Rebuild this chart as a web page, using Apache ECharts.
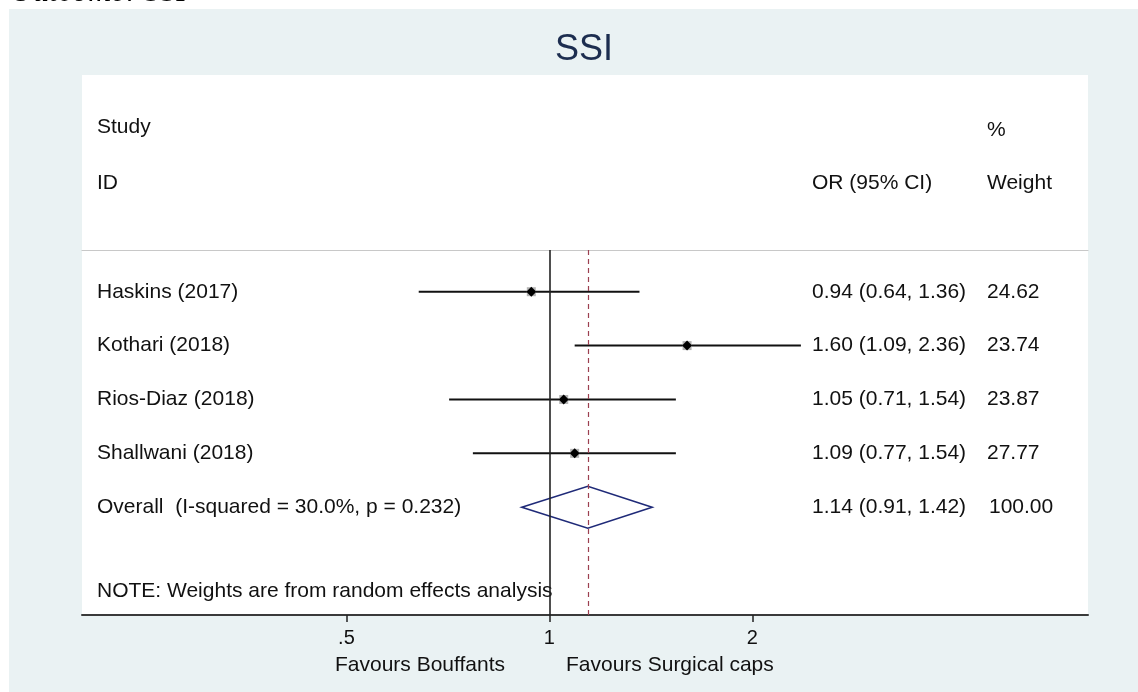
<!DOCTYPE html>
<html>
<head>
<meta charset="utf-8">
<script src="https://cdn.jsdelivr.net/npm/echarts@6/dist/echarts.min.js"></script>
<style>
  html, body { margin: 0; padding: 0; background: #fff; }
</style>
</head>
<body>
<div id="main" style="width: 1138px;height:692px;"></div>
<script type="text/javascript">
    // forest plot data (odds ratios, 95% CI, weights)
    var studies = ['Haskins (2017)', 'Kothari (2018)', 'Rios-Diaz (2018)', 'Shallwani (2018)'];
    var orValues = [0.94, 1.60, 1.05, 1.09];
    var ciLower = [0.64, 1.09, 0.71, 0.77];
    var ciUpper = [1.36, 2.36, 1.54, 1.54];
    var weights = ['24.62', '23.74', '23.87', '27.77'];

    var overallLabel = 'Overall  (I-squared = 30.0%, p = 0.232)';
    var overallEstimate = [1.14, 0.91, 1.42];   // OR, lower, upper
    var overallWeight = '100.00';

    var xTicks = [0.5, 1, 2];
    var noteText = 'NOTE: Weights are from random effects analysis';

    var FONT = "'Liberation Sans', Arial, sans-serif";
    var txt = { fontFamily: FONT, fontSize: 21, fill: '#111', verticalAlign: 'middle' };

    function fmt(v) { return v.toFixed(2); }
    function ciText(o, l, h) { return fmt(o) + ' (' + fmt(l) + ', ' + fmt(h) + ')'; }

    var myChart = echarts.init(document.getElementById('main'));

    function renderStudy(params, api) {
        var i = params.dataIndex;
        var row = api.value(1);
        var pt = api.coord([api.value(0), row]);
        var lo = api.coord([api.value(2), row]);
        var hi = api.coord([api.value(3), row]);
        var left = params.coordSys.x;
        return {
            type: 'group',
            children: [
                { type: 'line', shape: { x1: lo[0], y1: lo[1], x2: hi[0], y2: hi[1] }, style: { stroke: '#111', lineWidth: 2 } },
                { type: 'rect', shape: { x: pt[0] - 4.5, y: pt[1] - 4.5, width: 9, height: 9 }, style: { fill: '#b4b4b4' } },
                { type: 'polygon', shape: { points: [[pt[0] - 5, pt[1]], [pt[0], pt[1] - 5], [pt[0] + 5, pt[1]], [pt[0], pt[1] + 5]] }, style: { fill: '#000' } },
                { type: 'text', x: left + 15, y: pt[1], style: Object.assign({ text: studies[i] }, txt) },
                { type: 'text', x: left + 730, y: pt[1], style: Object.assign({ text: ciText(orValues[i], ciLower[i], ciUpper[i]) }, txt) },
                { type: 'text', x: left + 905, y: pt[1], style: Object.assign({ text: weights[i] }, txt) }
            ]
        };
    }

    function renderOverall(params, api) {
        var row = api.value(1);
        var c = api.coord([api.value(0), row]);
        var lo = api.coord([api.value(2), row]);
        var hi = api.coord([api.value(3), row]);
        var left = params.coordSys.x;
        return {
            type: 'group',
            children: [
                { type: 'polygon', shape: { points: [[lo[0], lo[1]], [c[0], c[1] - 21], [hi[0], hi[1]], [c[0], c[1] + 21]] },
                  style: { fill: 'none', stroke: '#1f2a78', lineWidth: 1.6 } },
                { type: 'text', x: left + 15, y: c[1], style: Object.assign({ text: overallLabel }, txt) },
                { type: 'text', x: left + 730, y: c[1], style: Object.assign({ text: ciText(overallEstimate[0], overallEstimate[1], overallEstimate[2]) }, txt) },
                { type: 'text', x: left + 907, y: c[1], style: Object.assign({ text: overallWeight }, txt) }
            ]
        };
    }

    function renderNote(params, api) {
        var p = api.coord([api.value(0), api.value(1)]);
        return { type: 'text', x: params.coordSys.x + 15, y: p[1], style: Object.assign({ text: noteText }, txt) };
    }

    var studyData = studies.map(function (s, i) { return [orValues[i], i, ciLower[i], ciUpper[i]]; });

    var option = {
        animation: false,
        backgroundColor: '#ffffff',
        graphic: [
            { type: 'text', x: 10, y: -7, z: -12, style: { text: 'Outcome: SSI', fontFamily: "'Liberation Serif', serif", fontStyle: 'italic', fontSize: 32, fill: '#000', verticalAlign: 'middle' } },
            { type: 'rect', z: -11, shape: { x: 9, y: 9, width: 1129, height: 683 }, style: { fill: '#eaf2f3' } },
            { type: 'rect', z: -10, shape: { x: 82, y: 75, width: 1006, height: 540 }, style: { fill: '#ffffff' } },
            { type: 'text', x: 584, y: 50, style: { text: 'SSI', fontFamily: FONT, fontSize: 36, fill: '#1c2d4f', align: 'center', verticalAlign: 'middle' } },
            { type: 'text', x: 97, y: 127, style: Object.assign({ text: 'Study' }, txt) },
            { type: 'text', x: 97, y: 183, style: Object.assign({ text: 'ID' }, txt) },
            { type: 'text', x: 812, y: 183, style: Object.assign({ text: 'OR (95% CI)' }, txt) },
            { type: 'text', x: 987, y: 130, style: Object.assign({ text: '%' }, txt) },
            { type: 'text', x: 987, y: 183, style: Object.assign({ text: 'Weight' }, txt) },
            { type: 'text', x: 505, y: 665, style: Object.assign({ text: 'Favours Bouffants', align: 'right' }, txt) },
            { type: 'text', x: 566, y: 665, style: Object.assign({ text: 'Favours Surgical caps' }, txt) }
        ],
        grid: { left: 82, right: 50, top: 250, bottom: 77 },
        xAxis: [{
            type: 'log',
            logBase: 2,
            min: 0.2027,
            max: 6.29,
            position: 'bottom',
            splitLine: { show: false },
            axisLine: { onZero: false, lineStyle: { color: '#3a3a3a', width: 2 } },
            axisTick: { customValues: xTicks, length: 7, lineStyle: { color: '#222', width: 1.5 } },
            axisLabel: {
                customValues: xTicks,
                margin: 13,
                fontFamily: FONT,
                fontSize: 20,
                color: '#111',
                formatter: function (v) {
                    var n = Math.round(v * 1000) / 1000;
                    return n < 1 ? String(n).replace(/^0/, '') : String(n);
                }
            }
        }, {
            type: 'log',
            logBase: 2,
            min: 0.2027,
            max: 6.29,
            position: 'top',
            splitLine: { show: false },
            axisLine: { onZero: false, lineStyle: { color: '#c8c8c8', width: 1.2 } },
            axisTick: { show: false },
            axisLabel: { show: false }
        }],
        yAxis: {
            type: 'value',
            inverse: true,
            min: -0.774,
            max: 6.0,
            show: false
        },
        series: [{
            type: 'custom',
            name: 'studies',
            renderItem: renderStudy,
            encode: { x: 0, y: 1 },
            data: studyData,
            z: 3,
            markLine: {
                silent: true,
                symbol: 'none',
                label: { show: false },
                data: [
                    { xAxis: 1, lineStyle: { color: '#222', width: 1.6, type: 'solid' } },
                    { xAxis: overallEstimate[0], lineStyle: { color: '#9c4050', width: 1.2, type: [5, 4] } }
                ]
            }
        }, {
            type: 'custom',
            name: 'overall',
            renderItem: renderOverall,
            encode: { x: 0, y: 1 },
            data: [[overallEstimate[0], studies.length, overallEstimate[1], overallEstimate[2]]],
            z: 3
        }, {
            type: 'custom',
            name: 'note',
            renderItem: renderNote,
            encode: { x: 0, y: 1 },
            data: [[1, 5.55]],
            z: 3
        }]
    };

    myChart.setOption(option);
</script>
</body>
</html>
